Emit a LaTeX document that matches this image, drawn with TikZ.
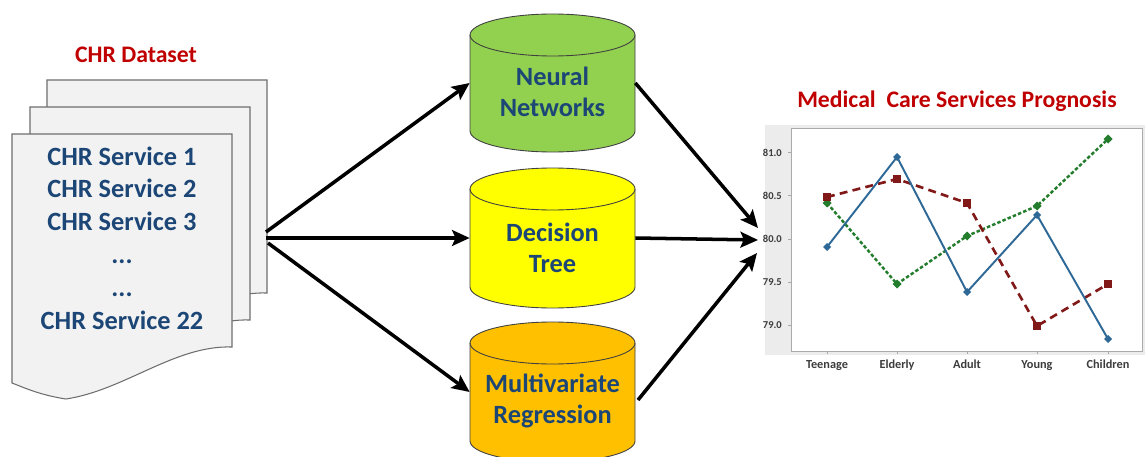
\documentclass[tikz,border=0pt]{standalone}
\usepackage{fontspec}
\setmainfont{Carlito}
\usetikzlibrary{arrows.meta}
\definecolor{txtblue}{RGB}{28,70,118}
\definecolor{ttlred}{RGB}{192,0,0}
\definecolor{pagefill}{RGB}{242,242,242}
\definecolor{pageline}{RGB}{110,110,110}
\definecolor{cgreen}{RGB}{146,208,80}
\definecolor{cyellow}{RGB}{255,255,0}
\definecolor{corange}{RGB}{255,192,0}
\definecolor{chblue}{RGB}{46,104,150}
\definecolor{chred}{RGB}{130,25,25}
\definecolor{chgreen}{RGB}{35,125,45}
\definecolor{panelgrey}{RGB}{236,236,236}
\definecolor{framegrey}{RGB}{170,170,170}
\definecolor{axtext}{RGB}{60,60,60}
\newcommand\drawcyl[5]{%
  \pgfmathsetmacro\cylrx{(#2-#1)/2}%
  \filldraw[cylline, fill=#5] (#1,#3) -- (#1,#4)
    arc[start angle=180, end angle=0, x radius=\cylrx, y radius=21] -- (#2,#3)
    arc[start angle=0, end angle=-180, x radius=\cylrx, y radius=21] -- cycle;
  \draw[cylline] (#1,#3) arc[start angle=180, end angle=0, x radius=\cylrx, y radius=21];%
}
\begin{document}
\begin{tikzpicture}[x=0.02cm, y=-0.02cm,
  pagebox/.style={fill=pagefill, draw=pageline, line width=0.6pt},
  cylline/.style={draw=black!75, line width=0.5pt},
  cylanchor/.style={inner sep=0pt, minimum width=3.3cm, minimum height=1.92cm},
  bigtext/.style={font=\fontsize{15}{17.6}\selectfont\bfseries, text=txtblue, align=center},
  doctext/.style={font=\fontsize{15}{18.7}\selectfont\bfseries, text=txtblue, align=center},
  ttl/.style={font=\fontsize{13.5}{16}\selectfont\bfseries, text=ttlred},
  arr/.style={-{Stealth[length=10pt, width=9pt, inset=2pt]}, line width=2pt, black},
  ticklbl/.style={font=\fontsize{6}{7}\selectfont\bfseries, text=axtext},
  catlbl/.style={font=\fontsize{7}{8}\selectfont\bfseries, text=axtext, anchor=base},
  sblue/.style={chblue, line width=1.1pt},
  sred/.style={chred, line width=1.5pt, dash pattern=on 4.5pt off 3pt},
  sgreen/.style={chgreen, line width=1.4pt, dash pattern=on 2pt off 1.2pt}
]
\clip (0,0) rectangle (1145,456);
\fill[white] (0,0) rectangle (1145,456);

% ---------- document stack ----------
\foreach \dx/\dy in {35/-54, 18/-27, 0/0}{
  \draw[pagebox, shift={(\dx,\dy)}] (12,134) -- (232,134) -- (232,347)
    .. controls (175,345) and (125,390) .. (66,399)
    .. controls (40,395) and (25,388) .. (12,383) -- cycle;
}
\node[ttl] (dset) at (136,55) {CHR Dataset};
\node[doctext] (doc) at (122,238) {CHR Service 1\\CHR Service 2\\CHR Service 3\\...\\...\\CHR Service 22};

% ---------- cylinders ----------
\drawcyl{470}{635}{35}{131}{cgreen}
\drawcyl{470}{635}{189}{287}{cyellow}
\drawcyl{470}{635}{343}{441}{corange}
\node[cylanchor] (nn) at (552.5,83) {};
\node[cylanchor] (dt) at (552.5,238) {};
\node[cylanchor] (mr) at (552.5,392) {};
\node[bigtext] (nnt) at (552.5,92) {Neural\\Networks};
\node[bigtext] (dtt) at (552.5,248) {Decision\\Tree};
\node[bigtext] (mrt) at (552.5,401) {Multivariate\\Regression};

% ---------- arrows ----------
\coordinate (srcA) at (266,232);
\coordinate (srcB) at (266,238);
\coordinate (srcC) at (268,243);
\coordinate (tgA) at (758,228);
\coordinate (tgB) at (758,240);
\coordinate (tgC) at (757,253);
\coordinate (mrout) at (638,400);
\draw[arr] (srcA) -- (nn.west);
\draw[arr] (srcB) -- (dt.west);
\draw[arr] (srcC) -- (mr.west);
\draw[arr] (nn.east) -- (tgA);
\draw[arr] (dt.east) -- (tgB);
\draw[arr] (mrout) -- (tgC);

% ---------- chart ----------
\node[ttl] (mtitle) at (957,101) {Medical\ \ Care Services Prognosis};
\fill[panelgrey] (765,125) rectangle (1145,355);
\filldraw[fill=white, draw=framegrey, line width=0.5pt] (791,128) rectangle (1142,351);
\foreach \v/\yy in {81.0/152.5, 80.5/195.75, 80.0/239, 79.5/282.25, 79.0/325.5}{
  \draw[framegrey, line width=0.4pt] (788,\yy) -- (791,\yy);
  \node[ticklbl, anchor=east] at (788,\yy) {\v};
}
\foreach \xx/\c in {827/Teenage, 897/Elderly, 967/Adult, 1037/Young, 1108/Children}{
  \draw[framegrey, line width=0.4pt] (\xx,351) -- (\xx,354);
  \node[catlbl] at (\xx,368) {\c};
}
% green dotted series
\draw[sgreen] (827,203) -- (897,284) -- (967,236) -- (1037,206) -- (1108,139);
\foreach \xx/\yy in {827/203, 897/284, 967/236, 1037/206, 1108/139}{
  \fill[chgreen, shift={(\xx,\yy)}] (0,-4.5) -- (4.5,0) -- (0,4.5) -- (-4.5,0) -- cycle;
}
% red dashed series
\draw[sred] (827,197) -- (897,179) -- (967,203) -- (1037,326) -- (1108,284);
\foreach \xx/\yy in {827/197, 897/179, 967/203, 1037/326, 1108/284}{
  \fill[chred] (\xx-4,\yy-4) rectangle (\xx+4,\yy+4);
}
% blue solid series
\draw[sblue] (827,247) -- (897,157) -- (967,292) -- (1037,215) -- (1108,339);
\foreach \xx/\yy in {827/247, 897/157, 967/292, 1037/215, 1108/339}{
  \fill[chblue, shift={(\xx,\yy)}] (0,-4) -- (4,0) -- (0,4) -- (-4,0) -- cycle;
}
\end{tikzpicture}
\end{document}
